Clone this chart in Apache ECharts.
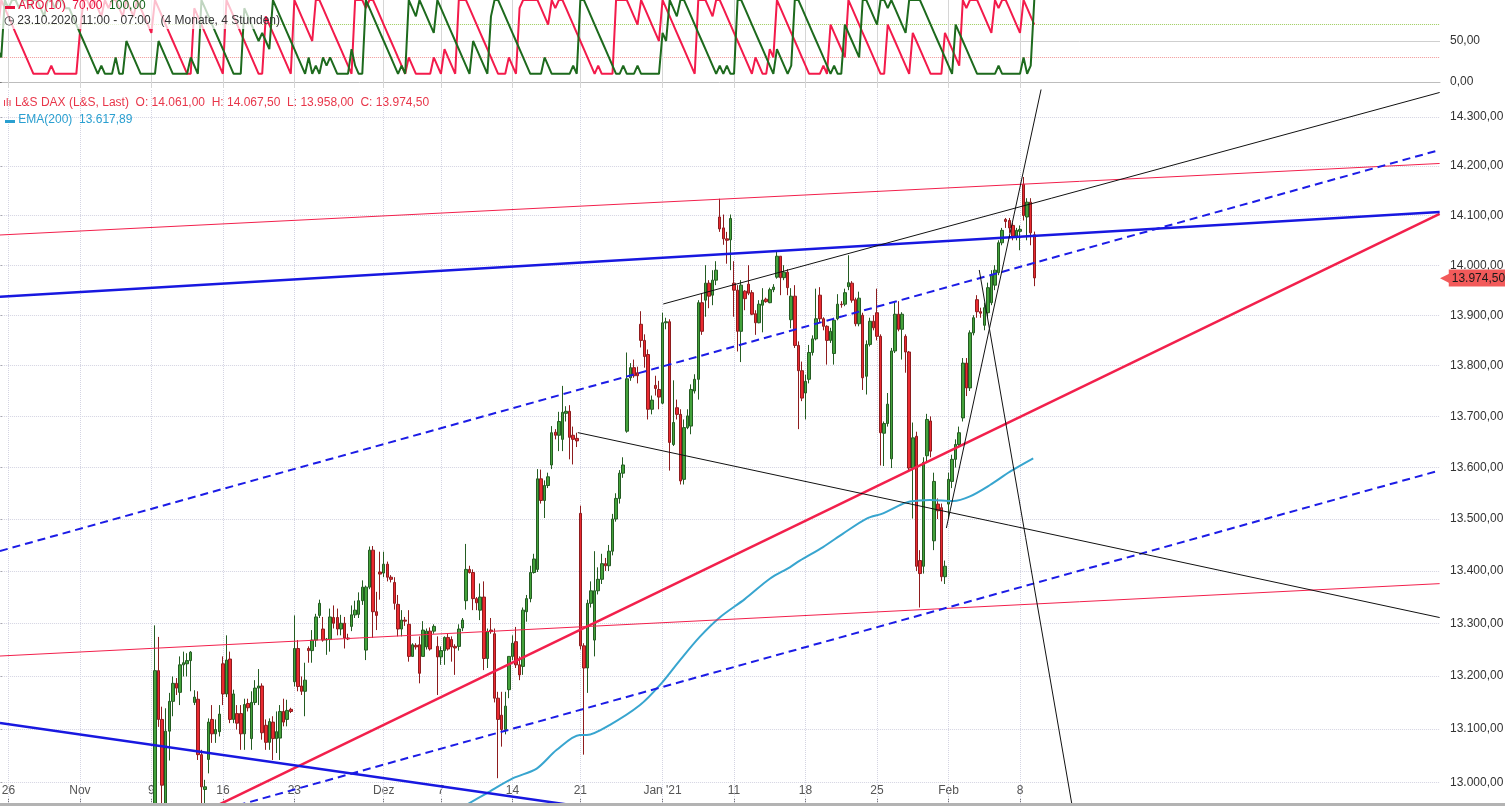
<!DOCTYPE html>
<html><head><meta charset="utf-8">
<script src="https://cdn.jsdelivr.net/npm/echarts@6/dist/echarts.min.js"></script>
<style>html,body{margin:0;padding:0;background:#fff;overflow:hidden}#c{width:1505px;height:806px}</style>
</head><body><div id="c"></div>
<script>
// ---------- DATA ----------
const firstBar = 44; // earlier 4h bars lie below the visible price range
const opens = [
12550,13210,13118,12955,13096,13152,13186,13169,13221,13223,
13229,13150,13156,13052,12987,13043,13118,13091,13095,13223,
13166,13232,13118,13129,13129,13091,13148,13082,13150,13177,
13181,13107,13075,13113,13082,13083,13133,13118,13137,13189,
13252,13181,13171,13252,13248,13268,13315,13289,13268,13269,
13311,13311,13289,13300,13272,13294,13316,13317,13343,13249,
13369,13440,13322,13398,13396,13413,13388,13378,13336,13289,
13306,13298,13237,13258,13259,13237,13255,13285,13285,13256,
13236,13248,13273,13269,13256,13256,13291,13343,13403,13397,
13347,13325,13350,13233,13287,13280,13158,13126,13099,13174,
13237,13265,13221,13218,13322,13347,13397,13403,13578,13536,
13565,13605,13669,13663,13655,13706,13710,13663,13657,13511,
13257,13215,13338,13268,13362,13384,13414,13410,13438,13500,
13540,13589,13671,13776,13796,13786,13882,13850,13822,13714,
13761,13753,13726,13885,13887,13645,13717,13704,13577,13678,
13681,13750,13773,13925,13930,13964,13940,13970,14097,14075,
14053,14051,13964,13950,13868,13948,13962,13945,13903,13885,
13920,13932,13925,13951,13976,14018,13975,13986,13891,13938,
13840,13790,13746,13773,13826,13853,13940,13893,13878,13850,
13824,13893,13922,13922,13957,13964,13931,13883,13900,13779,
13842,13888,13905,13858,13667,13686,13617,13829,13902,13872,
13858,13827,13599,13661,13420,13409,13623,13691,13458,13529,
13522,13389,13529,13573,13616,13645,13697,13805,13756,13865,
13931,13907,13880,13905,13925,13960,13985,14045,14092,14090,
14080,14058,14068,14163,14097,14127,14061];
const highs = [
13296,13274,13142,13139,13168,13199,13196,13237,13246,13243,
13247,13173,13171,13061,13005,13120,13145,13118,13145,13237,
13277,13246,13174,13145,13145,13157,13157,13171,13192,13213,
13186,13118,13120,13124,13133,13145,13157,13155,13140,13315,
13268,13199,13225,13256,13287,13318,13345,13312,13272,13328,
13334,13328,13316,13312,13280,13334,13343,13359,13382,13372,
13447,13448,13360,13437,13437,13418,13392,13388,13354,13325,
13312,13325,13262,13262,13275,13304,13290,13292,13298,13275,
13256,13275,13280,13275,13260,13298,13310,13452,13410,13403,
13350,13376,13380,13290,13310,13290,13170,13170,13170,13237,
13277,13293,13237,13330,13354,13410,13433,13597,13596,13575,
13590,13681,13675,13709,13760,13720,13722,13680,13668,13526,
13262,13345,13380,13438,13407,13433,13425,13450,13510,13550,
13595,13620,13826,13805,13812,13798,13908,13862,13832,13741,
13780,13770,13905,13895,13892,13771,13733,13714,13694,13714,
13763,13783,13930,13943,14000,13970,13990,14008,14134,14102,
14067,14102,14008,13960,13970,13950,14000,13950,13910,13930,
13954,13935,13955,13962,14029,14018,14000,13992,13954,13960,
13848,13808,13782,13841,13860,13953,13956,13896,13880,13875,
13895,13942,13928,13953,14020,13968,13935,13947,13905,13850,
13895,13900,13953,13862,13690,13746,13835,13925,13928,13906,
13862,13829,13688,13670,13440,13620,13705,13700,13590,13540,
13530,13420,13590,13625,13655,13680,13815,13815,13870,13900,
13940,13915,13925,13965,13990,14000,14050,14075,14095,14095,
14085,14075,14080,14178,14135,14135,14067.5];
const lows = [
12540,13104,12940,12930,13041,13124,13164,13145,13199,13199,
13171,13145,13042,12955,12960,13017,13074,13074,13086,13145,
13160,13111,13111,13099,13061,13061,13133,13061,13145,13145,
13080,13061,13061,13042,13055,13042,13105,13105,13130,13180,
13171,13164,13124,13225,13225,13255,13310,13265,13240,13246,
13290,13277,13277,13252,13268,13285,13310,13310,13335,13230,
13365,13272,13287,13345,13388,13380,13378,13326,13275,13275,
13295,13227,13237,13250,13186,13237,13250,13248,13280,13164,
13221,13221,13248,13227,13202,13248,13285,13326,13395,13325,
13325,13306,13211,13215,13280,13150,13008,13067,13090,13158,
13230,13215,13192,13202,13303,13340,13395,13398,13530,13502,
13560,13597,13655,13632,13632,13690,13616,13606,13640,13250,
13052,13168,13330,13237,13355,13375,13400,13400,13430,13495,
13530,13580,13668,13770,13776,13765,13836,13796,13694,13704,
13741,13714,13724,13872,13594,13642,13694,13567,13567,13675,
13665,13745,13733,13861,13897,13914,13920,13960,14067,14041,
14003,13990,13897,13828,13807,13910,13940,13900,13861,13884,
13866,13925,13924,13946,13973,13940,13970,13940,13874,13835,
13675,13730,13694,13765,13820,13850,13885,13870,13802,13845,
13802,13890,13915,13918,13950,13925,13878,13878,13752,13743,
13838,13870,13850,13604,13603,13680,13599,13825,13868,13812,
13786,13595,13501,13400,13330,13395,13610,13620,13440,13500,
13380,13375,13500,13560,13600,13640,13690,13740,13750,13860,
13895,13895,13870,13895,13920,13950,13980,14040,14075,14065,
14050,14050,14030,14090,14050,14040,13958];
const closes = [
13210,13118,12995,13096,13152,13186,13177,13221,13225,13229,
13245,13160,13052,12992,12992,13113,13091,13099,13128,13166,
13230,13118,13166,13111,13091,13146,13140,13150,13177,13181,
13093,13075,13114,13082,13095,13133,13113,13135,13133,13252,
13180,13171,13192,13248,13268,13312,13338,13268,13270,13312,
13300,13289,13300,13272,13270,13316,13325,13343,13369,13369,
13440,13322,13315,13394,13413,13388,13384,13338,13289,13306,
13304,13237,13259,13255,13205,13287,13285,13251,13294,13236,
13248,13273,13251,13255,13253,13289,13306,13403,13397,13347,
13339,13350,13233,13284,13284,13158,13118,13099,13143,13237,
13262,13221,13202,13325,13347,13397,13423,13578,13536,13565,
13582,13668,13663,13690,13708,13710,13659,13655,13652,13257,
13215,13338,13362,13362,13384,13414,13410,13438,13500,13540,
13589,13605,13774,13796,13780,13780,13850,13818,13714,13732,
13755,13738,13885,13887,13649,13688,13704,13574,13678,13701,
13753,13773,13925,13868,13964,13938,13970,13990,14073,14053,
14050,14094,13950,13868,13960,13933,13944,13902,13885,13922,
13930,13927,13951,13956,14018,13975,13986,13955,13938,13840,
13790,13736,13769,13826,13853,13893,13893,13878,13850,13868,
13890,13922,13921,13945,13965,13930,13883,13934,13776,13842,
13888,13875,13858,13668,13686,13724,13829,13902,13872,13902,
13827,13599,13658,13409,13395,13610,13694,13632,13573,13516,
13389,13409,13577,13616,13645,13668,13805,13756,13865,13895,
13907,13904,13915,13955,13980,13990,14045,14070,14088,14075,
14058,14070,14072,14100,14127,14065,13974.5];

const aroonUp = [
60,100,90,80,70,60,50,40,30,20, 10,10,10,10,10,20,10,10,10,10,
10,10,10,60,100,100,90,100,90,80, 100,90,100,100,90,80,100,90,80,100,
90,80,70,60,100,90,80,70,60,50, 40,30,20,10,10,90,80,70,60,50,
40,30,20,10,100,90,80,70,60,50, 40,30,20,10,10,80,70,60,50,40,
30,20,10,100,90,80,70,60,50,100, 100,90,80,70,60,50,40,30,20,10,
100,100,100,90,100,100,90,80,70,60, 50,40,30,20,10,30,20,10,10,10,
10,10,30,20,10,40,30,20,10,100, 100,100,90,80,70,60,50,40,30,20,
10,10,10,30,20,10,90,100,100,100, 100,100,90,80,70,100,90,100,100,90,
80,70,60,50,40,30,20,10,20,10, 10,10,10,100,100,100,100,90,80,70,
100,90,80,70,60,50,100,90,80,70, 60,50,40,30,20,10,100,100,100,90,
80,100,100,90,80,70,60,50,40,30, 20,10,30,20,10,10,40,30,100,90,
80,70,60,50,40,30,20,10,10,10, 10,20,10,70,60,50,40,30,100,90,
80,70,60,50,40,30,20,10,10,70, 60,50,40,30,20,10,60,50,40,30,
20,10,10,10,10,60,50,40,30,20, 100,90,100,100,100,90,80,70,60,100,
90,100,100,90,80,70,60,100,90,80, 70];
const aroonDown = [
40,30,100,90,100,100,90,100,100,90, 100,100,90,80,100,100,90,100,100,90,
90,80,70,60,50,40,30,20,10,20, 10,10,10,30,10,10,50,40,30,20,
10,10,10,10,10,50,40,30,20,10, 10,10,10,10,30,20,10,100,90,80,
70,60,50,40,30,20,10,10,10,90, 80,70,60,50,60,50,40,100,90,80,
70,60,50,40,30,20,10,30,10,20, 10,30,20,30,20,10,10,10,10,40,
20,10,10,100,90,80,70,60,50,40, 30,20,10,20,10,100,90,80,100,90,
80,70,60,100,90,80,70,60,50,40, 30,20,10,50,40,30,20,10,80,100,
100,90,80,70,60,50,40,30,20,10, 10,10,10,30,20,10,10,10,10,10,
10,20,10,100,100,90,80,70,60,50, 40,30,20,10,10,20,10,10,10,20,
10,10,10,10,10,10,60,50,100,90, 80,100,100,90,80,70,60,50,40,30,
20,10,20,10,20,10,10,100,100,90, 80,70,60,50,40,30,20,10,40,30,
20,10,20,100,100,90,80,70,60,50, 40,30,20,10,20,10,10,70,60,50,
40,30,100,100,90,80,70,100,100,90, 100,90,80,70,60,100,100,100,100,90,
80,70,60,50,40,30,20,10,70,60, 50,40,30,20,10,10,10,10,10,10,
20,10,10,10,10,10,10,30,10,20, 100];

// EMA(200): [bar index, value]
const emaPoints = [[131.5,12960],[136.8,12980],[144.2,13008],[150.8,13026],[156.4,13061],[162.9,13089],
[164.8,13089],[171.3,13108],[179.7,13145],[185.3,13183],[190.9,13230],[196.4,13274],[202.0,13311],
[209.0,13346],[216.0,13385],[221.6,13407],[224.4,13420],[230.9,13446],[236.5,13472],[243.1,13501],
[247.7,13511],[252.4,13527],[255.2,13534],[260.8,13537],[267.3,13535],[272.0,13544],[277.6,13566],
[283.2,13592],[289.7,13617.89]];
const emaLast = 13617.89;

// drawn trend lines: [bar index, price] end points
const redThinUpper = [[0.64,14060.7],[403.4,14205.5]];
const redThinLower = [[0.64,13237.7],[403.4,13375.7]];
const redThick     = [[42.6,12897.1],[403.4,14103.1]];
const blueThick    = [[0.64,13936.7],[403.4,14107.1]];
const blueThickLow = [[0.64,13111.2],[174.1,12945.1]];
const blueDashUp   = [[0.64,13438.3],[403.4,14233.0]];
const blueDashLow  = [[42.6,12912.3],[403.4,13594.4]];
const blackA       = [[186.2,13922.4],[403.4,14350.7]];
const blackB       = [[162.3,13668.2],[403.4,13310.9]];
const blackC       = [[265.4,13482.7],[294.3,14438.8]];
const blackD       = [[274.6,13990.4],[300.6,12956.3]];

const priceTicks = [13000,13100,13200,13300,13400,13500,13600,13700,13800,13900,14000,14100,14200,14300];
const aroonTicks = [0,50];
const xLabelIdx = [3,23,43,63,83,108,124,144,163,186,206,226,246,266,286];
const xLabelTxt = ['26','Nov','9','16','23','Dez','7','14','21',"Jan '21",'11','18','25','Feb','8'];
const nSlots = 404; // bars + empty future space up to the price scale

// ---------- BUILD ----------
function de(v){ return Number(v).toFixed(2).replace('.',',').replace(/\B(?=(\d{3})+(?!\d))/g,'.'); }
const cats = Array.from({length:nSlots},(_,i)=>String(i));
const labelMap = {}; xLabelIdx.forEach((k,j)=>{ labelMap[k]=xLabelTxt[j]; });
const candles = [];
for (let i=0;i<firstBar+opens.length;i++){
  if (i<firstBar) candles.push('-');
  else { const k=i-firstBar; candles.push([opens[k],closes[k],lows[k],highs[k]]); }
}
const last = opens.length-1;
const FONT = 'Liberation Sans, Arial, sans-serif';

function tl(data,color,width,type,z){
  return {type:'line',xAxisIndex:2,yAxisIndex:1,data:data,symbol:'none',silent:true,
    lineStyle:{color:color,width:width,type:type||'solid'},z:z||4,clip:true};
}
const gridDot = {color:'#d4d4e2',type:'dotted',width:1};
const pMin = 12961.9, pMax = 14355.8;

const option = {
  animation:false,
  backgroundColor:'#ffffff',
  textStyle:{fontFamily:FONT},
  grid:[
    {left:-4.1,right:65,top:0,height:88,containLabel:false,outerBoundsMode:'none'},
    {left:-4.1,right:65,top:90,bottom:3,containLabel:false,outerBoundsMode:'none'}
  ],
  xAxis:[
    {type:'category',gridIndex:0,data:cats,boundaryGap:true,
      axisLine:{show:true,lineStyle:{color:'#bdbdbd'}},axisTick:{show:false},axisLabel:{show:false},splitLine:{show:false}},
    {type:'category',gridIndex:1,data:cats,boundaryGap:true,
      axisLine:{show:false},
      axisTick:{show:true,inside:true,length:4,alignWithLabel:true,interval:(i)=>labelMap[i]!==undefined,lineStyle:{color:'#777'}},
      axisLabel:{show:true,inside:true,margin:6,interval:(i)=>labelMap[i]!==undefined,
        formatter:(v)=>labelMap[+v]||'',color:'#555',fontSize:12,fontFamily:FONT},
      splitLine:{show:false}},
    {type:'value',gridIndex:1,min:-0.5,max:nSlots-0.5,show:false},
    {type:'value',gridIndex:0,min:-0.5,max:nSlots-0.5,show:false}
  ],
  yAxis:[
    {type:'value',gridIndex:0,position:'right',min:-7.3,max:100,
      axisLine:{show:true,lineStyle:{color:'#bdbdbd'}},
      axisTick:{show:true,length:4,customValues:aroonTicks,lineStyle:{color:'#777'}},
      axisLabel:{customValues:aroonTicks,formatter:(v)=>de(v),color:'#333',fontSize:12,margin:10,fontFamily:FONT},
      splitLine:{show:false}},
    {type:'log',logBase:10,gridIndex:1,position:'right',min:pMin,max:pMax,
      axisLine:{show:true,lineStyle:{color:'#bdbdbd'}},
      axisTick:{show:true,length:4,customValues:priceTicks,lineStyle:{color:'#777'}},
      axisLabel:{customValues:priceTicks,formatter:(v)=>de(v),color:'#333',fontSize:12,margin:10,fontFamily:FONT},
      splitLine:{show:false}},
    {type:'log',logBase:10,gridIndex:1,position:'right',offset:0,min:pMin,max:pMax,
      axisLine:{show:false},axisTick:{show:false},splitLine:{show:false},z:10,
      axisLabel:{customValues:[closes[last]],margin:0,formatter:(v)=>'{t|◀}{b|'+de(v)+'}',
        rich:{t:{color:'#f25a5a',fontSize:14,padding:[0,-2,0,0],fontFamily:'DejaVu Sans'},
              b:{backgroundColor:'#f25a5a',color:'#1a1a1a',fontSize:12,padding:[3,10,2,3],fontFamily:FONT}}}}
  ],
  title:[
    {left:5,top:0,padding:0,z:100,text:'{i|▬} {r|ARO(10)}  {r|'+de(aroonUp[aroonUp.length-1])+'}  {g|'+de(aroonDown[aroonDown.length-1])+'}',
      textStyle:{fontSize:12,fontWeight:'normal',fontFamily:FONT,rich:{
        i:{color:'#e8103c',fontSize:10},r:{color:'#e8103c',fontSize:12,fontFamily:FONT},g:{color:'#17651b',fontSize:12,fontFamily:FONT}}}},
    {left:4,top:15,padding:0,z:100,text:'◷ 23.10.2020 11:00 - 07:00   (4 Monate, 4 Stunden)',
      textStyle:{fontSize:12,fontWeight:'normal',color:'#333',fontFamily:FONT}},
    {left:3,top:97,padding:0,z:100,
      text:'{i|ılı} L&S DAX (L&S, Last)  O: '+de(opens[last])+'  H: '+de(highs[last])+'  L: '+de(lows[last])+'  C: '+de(closes[last]),
      textStyle:{fontSize:12,fontWeight:'normal',color:'#e8364a',fontFamily:FONT,rich:{i:{color:'#e8364a',fontSize:11}}}},
    {left:5,top:114,padding:0,z:100,text:'{i|▬} EMA(200)  '+de(emaLast),
      textStyle:{fontSize:12,fontWeight:'normal',color:'#2a9fd0',fontFamily:FONT,rich:{i:{color:'#2a9fd0',fontSize:10}}}}
  ],
  graphic:[
    {type:'rect',left:0,top:0,z:8,shape:{width:262,height:29},style:{fill:'rgba(255,255,255,0.72)'}},
    {type:'rect',left:0,top:803,z:8,shape:{width:1505,height:3},style:{fill:'#b3b3b3'}}
  ],
  series:[
    {type:'line',xAxisIndex:3,yAxisIndex:0,data:[],silent:true,z:1,
      markLine:{silent:true,symbol:'none',z:1,label:{show:false},animation:false,
        data:[{yAxis:50,lineStyle:{color:'#cfcfcf',type:'solid',width:1}},
              {yAxis:30,lineStyle:{color:'#f29a9a',type:'dotted',width:1}},
              {yAxis:70,lineStyle:{color:'#9ccc5a',type:'dotted',width:1}}]
              .concat(xLabelIdx.map(k=>({xAxis:k,lineStyle:{color:'#d6d6d6',type:'solid',width:1}})))}},
    {type:'line',name:'AroonUp',xAxisIndex:0,yAxisIndex:0,data:aroonUp,symbol:'none',silent:true,
      lineStyle:{color:'#f31b4b',width:2},z:3},
    {type:'line',name:'AroonDown',xAxisIndex:0,yAxisIndex:0,data:aroonDown,symbol:'none',silent:true,
      lineStyle:{color:'#1d6a1d',width:2},z:3},
    {type:'line',xAxisIndex:2,yAxisIndex:1,data:[],silent:true,z:1,
      markLine:{silent:true,symbol:'none',z:1,label:{show:false},animation:false,
        data:priceTicks.map(p=>({yAxis:p,lineStyle:gridDot}))
          .concat(xLabelIdx.map(k=>({xAxis:k,lineStyle:gridDot})))}},
    {type:'candlestick',xAxisIndex:1,yAxisIndex:1,data:candles,barWidth:3,silent:true,z:2,
      itemStyle:{color:'#43a23b',color0:'#ea2a30',borderColor:'#245c22',borderColor0:'#8e1c1e',borderWidth:1}},
    {type:'line',xAxisIndex:2,yAxisIndex:1,data:emaPoints,symbol:'none',smooth:0.3,silent:true,
      lineStyle:{color:'#38a5cf',width:2},z:4},
    tl(redThinUpper,'#f2204c',1),
    tl(redThinLower,'#f2204c',1),
    tl(redThick,'#f2204c',2.5),
    tl(blueThick,'#1818e0',2.5),
    tl(blueThickLow,'#1818e0',2.5),
    tl(blueDashUp,'#1c1ce6',2,[8,5]),
    tl(blueDashLow,'#1c1ce6',2,[8,5]),
    tl(blackA,'#111111',1),
    tl(blackB,'#111111',1),
    tl(blackC,'#111111',1),
    tl(blackD,'#111111',1)
  ]
};
const chart = echarts.init(document.getElementById('c'),null,{renderer:'canvas'});
chart.setOption(option);
</script>
</body></html>
